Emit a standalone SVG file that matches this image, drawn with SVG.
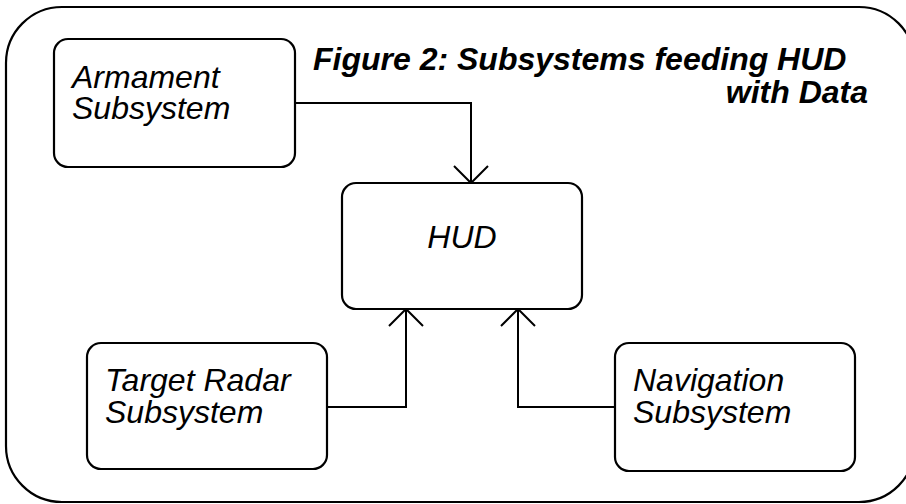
<svg xmlns="http://www.w3.org/2000/svg" width="906" height="504" viewBox="0 0 906 504">
<style>
.frame{fill:#fff;stroke:#000;stroke-width:2.2}
.box{fill:#fff;stroke:#000;stroke-width:2.2}
.conn{fill:none;stroke:#000;stroke-width:2}
.lbl{font-family:"Liberation Sans",Arial,sans-serif;font-size:32px;font-style:italic;fill:#000}
.title{font-family:"Liberation Sans",Arial,sans-serif;font-size:32px;font-style:italic;font-weight:bold;fill:#000}
</style>
<defs>
<marker id="arr" markerUnits="userSpaceOnUse" markerWidth="40" markerHeight="40" viewBox="-20 -20 40 40" refX="0" refY="0" orient="auto" overflow="visible">
<path d="M-17,-17 L0,0 L-17,17" fill="none" stroke="#000" stroke-width="2"/>
</marker>
</defs>
<rect width="906" height="504" fill="#fff"/>
<rect id="frame" class="frame" x="6" y="7" width="909" height="495" rx="56" ry="56"/>
<g id="title">
<text class="title" x="313" y="70">Figure 2: Subsystems feeding HUD</text>
<text class="title" x="868" y="103" text-anchor="end">with Data</text>
</g>
<g id="connectors">
<path class="conn" d="M295,103 H471 V183" marker-end="url(#arr)"/>
<path class="conn" d="M326,407 H406 V309" marker-end="url(#arr)"/>
<path class="conn" d="M615,407 H518 V309" marker-end="url(#arr)"/>
</g>
<g id="armament">
<rect class="box" x="54" y="39" width="241" height="128" rx="14"/>
<text class="lbl" x="72" y="88">Armament</text>
<text class="lbl" x="72" y="119">Subsystem</text>
</g>
<g id="hud">
<rect class="box" x="342" y="183" width="240" height="126" rx="14"/>
<text class="lbl" x="462" y="248" text-anchor="middle">HUD</text>
</g>
<g id="target-radar">
<rect class="box" x="87" y="343" width="240" height="126" rx="14"/>
<text class="lbl" x="105" y="391">Target Radar</text>
<text class="lbl" x="105" y="423">Subsystem</text>
</g>
<g id="navigation">
<rect class="box" x="615" y="343" width="240" height="128" rx="14"/>
<text class="lbl" x="633" y="391">Navigation</text>
<text class="lbl" x="633" y="423">Subsystem</text>
</g>
</svg>
